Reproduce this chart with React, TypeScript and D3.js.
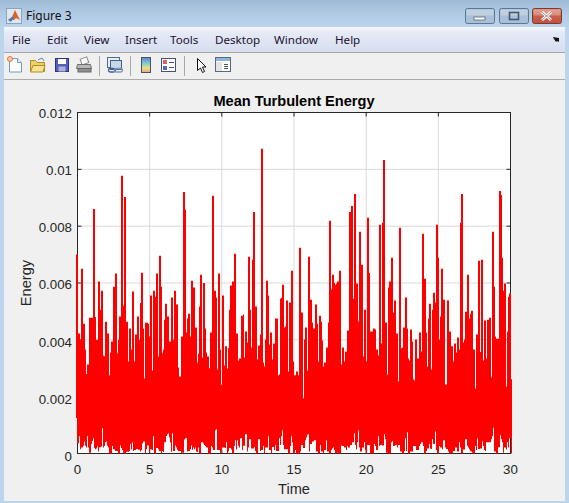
import React from "react";
import * as d3 from "d3";

// Window text
const windowTitle = "Figure 3";
const menuItems = ["File", "Edit", "View", "Insert", "Tools", "Desktop", "Window", "Help"];
const menuX = [12, 47, 84, 125, 170, 215, 274, 335];

// Chart text
const chartTitle = "Mean Turbulent Energy";
const xLabel = "Time";
const yLabel = "Energy";
const xTicks = [0, 5, 10, 15, 20, 25, 30];
const yTicks = [0, 0.002, 0.004, 0.006, 0.008, 0.01, 0.012];
const yTickLabels = ["0", "0.002", "0.004", "0.006", "0.008", "0.01", "0.012"];

// Upper and lower reach of the dense red trace, in units of 1e-5 energy, sample by sample
const upperA = [700,700,422,422,400,650,650,457,457,366,280,313,313,478,478,478,478,860,860,480,400,400,605,605,506,573,573,345,342,464,464,422,422,275,355,394,394,587,587,633,633,352,400,482,482,977,977,520,903,903,464,464,324,440,440,366,570,570,324,419,419,482,482,400,530,636,636,440,264,460,460,460,457,412,556,556,292,573,573,552,633,633,341,696,696,587,352,366,471,527,527,482,482,394,394,549,549,400,573,573,524,524,303,271,271,412,412,920,920,858,426,475,492,492,412,608,608,584,584,443,443,320,352,517,629,629,338,600,600,440,355,341,341,300,426,426,907,907,573,573,549,296,633,633,366,240,556,556,310];
const upperB = [377,377,299,370,506,591,591,605,605,703,703,422,422,327,334,334,485,485,489,338,429,429,391,692,692,506,373,682,850,850,517,517,331,380,380,419,1072,1072,320,306,401,608,608,556,384,426,426,331,387,387,475,475,475,275,278,545,548,594,594,443,447,538,538,289,531,531,643,643,324,275,275,289,289,275,724,724,496,496,194,401,443,443,292,692,692,541,541,461,440,440,524,524,457,324,485,485,464,398,306,320,320,373,373,461,819,819,577,629,629,601,594,598,605,605,643,643,313,373,373,324,359,359,433,433,850,850,871,871,545,913,913,598,598,464,780,780,664,664,341,506,506,324,830,830,635];
const upperC = [429,429,429,440,440,436,366,366,345,805,805,387,812,1033,1033,461,461,278,584,605,605,689,689,496,538,538,422,422,254,794,794,370,373,443,443,549,549,440,334,327,436,436,394,261,257,401,401,334,334,426,426,359,773,773,615,615,426,306,475,527,527,296,506,566,566,531,805,805,689,401,482,650,650,541,541,243,243,538,538,429,429,377,377,324,387,387,355,408,408,366,812,913,913,391,401,499,499,629,629,475,492,502,502,366,366,229,419,419,678,678,357,682,682,327,468,468,334,471,471,478,478,268,780,780,587,412,404,404,404,924,924,910,689,573,598,598,236,429,552,563,563,261];
const lowerA = [125,36,36,61,15,21,21,27,42,27,21,61,21,3,3,33,44,54,19,15,18,25,7,21,23,25,89,21,26,40,42,27,21,0,0,0,26,16,14,9,9,9,0,0,28,19,12,3,0,0,6,6,6,9,33,14,39,9,12,12,16,16,13,13,7,12,35,42,42,0,15,28,28,6,14,14,12,61,0,0,19,19,15,9,9,0,9,5,40,40,62,68,71,56,39,6,71,9,9,28,21,12,9,9,9,3,3,3,49,54,54,7,9,9,15,28,13,21,15,21,7,5,21,0,0,40,40,35,30,26,21,21,0,0,0,26,21,12,12,82,85,12,12,12,0,12,21,21,21];
const lowerB = [19,40,0,7,19,19,14,0,0,26,47,14,47,27,21,54,54,12,27,27,68,68,7,21,50,50,18,18,18,23,9,0,0,50,50,9,12,12,26,0,21,21,21,61,12,12,0,23,23,12,30,9,9,9,54,30,61,82,30,15,15,15,15,0,0,26,61,39,0,0,12,0,0,0,0,7,30,30,19,19,47,56,66,68,7,33,33,42,42,47,47,7,7,0,0,30,7,7,0,12,12,47,7,7,0,0,12,18,21,12,0,0,3,0,0,0,28,26,26,21,21,12,26,21,21,30,30,40,40,71,30,15,40,82,21,7,7,21,21,40,12,0,30,30,30];
const lowerC = [0,0,0,0,33,26,12,12,61,26,30,30,28,28,68,50,3,3,0,0,0,40,44,26,26,30,30,21,30,30,7,7,0,0,9,54,9,75,0,0,7,7,7,26,26,26,12,12,12,26,33,40,40,26,0,0,9,18,18,33,18,16,50,33,33,77,12,0,0,26,21,21,15,47,47,21,16,16,7,0,0,0,3,9,9,21,21,7,7,40,21,0,0,14,14,50,50,27,21,15,9,7,3,0,0,26,12,54,16,16,18,18,42,26,12,9,40,40,40,40,40,50,61,91,7,7,0,0,22,22,64,50,40,3,21,21,14,40,21,54,54,0];

const upper = [...upperA, ...upperB, ...upperC];
const lower = [...lowerA, ...lowerB, ...lowerC];

const WIDTH = 569;
const HEIGHT = 503;
const plot = { left: 77.5, right: 510.5, top: 112.5, bottom: 453.5 };
const traceUnit = 1e-5;
const dt = 30 / (plot.right - plot.left);
const traceStartPx = 76;

const x = d3.scaleLinear().domain([0, 30]).range([plot.left, plot.right]);
const y = d3.scaleLinear().domain([0, 0.012]).range([plot.bottom, plot.top]);
// tick labels sit slightly lower than their ticks, a little more so near zero
const yLabelDrop = d3.scaleLinear().domain([0, 0.012]).range([7.5, 5.4]);
const sans = "'Liberation Sans', Arial, sans-serif";
const uiFont = "'Noto Sans', 'Open Sans', sans-serif";
const axisColor = "#262626";
const gridColor = "#d9d9d9";

type Sample = { t: number; hi: number; lo: number };
const samples: Sample[] = upper.map((u, i) => ({
  t: (traceStartPx + i - plot.left) * dt,
  hi: u * traceUnit,
  lo: (lower[i] ?? 0) * traceUnit,
}));
// closing sample so that the last step has its full width
samples.push({ ...samples[samples.length - 1], t: samples[samples.length - 1].t + dt });

const traceArea = d3
  .area<Sample>()
  .x((d) => x(d.t))
  .y0((d) => y(d.lo))
  .y1((d) => y(d.hi))
  .curve(d3.curveStepAfter);

function WinButton({ x0, w, fill, stroke, children }: { x0: number; w: number; fill: string; stroke: string; children?: React.ReactNode }) {
  return (
    <g>
      <rect x={x0 + 0.5} y={8.5} width={w} height={15} rx={2} fill={fill} stroke={stroke} />
      <rect x={x0 + 1.5} y={9.5} width={w - 2} height={6} rx={1} fill="#ffffff" opacity={0.25} />
      {children}
    </g>
  );
}

function Toolbar() {
  return (
    <g>
      {/* new */}
      <path d="M9.5 58.5h8l4 4v9.5h-12z" fill="#ffffff" stroke="#6f9ac6" />
      <path d="M17.5 58.5v4h4" fill="#e8f0fa" stroke="#6f9ac6" />
      <circle cx={10} cy={59} r={2.5} fill="#f8c9a0" stroke="#e07a3c" />
      {/* open */}
      <path d="M30.5 60.5h5l2 2h7v9h-14z" fill="#f2cf62" stroke="#b08c2a" />
      <path d="M30.5 72l2.5-6.5h12l-2 6.5z" fill="#f9e38e" stroke="#b08c2a" />
      <path d="M38 60l4-2 2 3" fill="none" stroke="#5c85b8" />
      {/* save */}
      <rect x={55.5} y={58.5} width={13} height={13} fill="#5560b4" stroke="#2c3486" />
      <rect x={58} y={59} width={8} height={5} fill="#ffffff" />
      <rect x={58.5} y={66.5} width={7} height={5} fill="#aab2dc" />
      {/* print */}
      <rect x={81} y={58} width={7} height={6} fill="#ffffff" stroke="#8a8a8a" transform="rotate(-20 84 61)" />
      <path d="M77.5 64.5h13l1 4h-15z" fill="#b8b8b8" stroke="#707070" />
      <rect x={78} y={68.5} width={13} height={3.5} fill="#8e8e8e" stroke="#666666" />
      <line x1={99.5} x2={99.5} y1={56} y2={76} stroke="#a8a8a8" />
      {/* link */}
      <rect x={107.5} y={57.5} width={12} height={10} fill="#e9eef6" stroke="#4a6d96" />
      <rect x={110.5} y={60.5} width={11} height={9} fill="#c9d7ea" stroke="#3e618c" />
      <rect x={108.5} y={68.5} width={7} height={3.5} rx={1.7} fill="none" stroke="#3e618c" strokeWidth={1.3} />
      <rect x={114.5} y={68.5} width={8} height={3.5} rx={1.7} fill="none" stroke="#7c97b8" strokeWidth={1.3} />
      <line x1={130.5} x2={130.5} y1={56} y2={76} stroke="#a8a8a8" />
      {/* colorbar */}
      <defs>
        <linearGradient id="cbar" x1="0" x2="0" y1="0" y2="1">
          <stop offset="0" stopColor="#5f7fd8" />
          <stop offset="0.4" stopColor="#7fd0c8" />
          <stop offset="0.7" stopColor="#e8e090" />
          <stop offset="1" stopColor="#f0a070" />
        </linearGradient>
        <linearGradient id="titlebar" x1="0" x2="0" y1="0" y2="1">
          <stop offset="0" stopColor="#9fbad6" />
          <stop offset="0.5" stopColor="#b2cbe4" />
          <stop offset="1" stopColor="#bcd4ec" />
        </linearGradient>
        <linearGradient id="menubar" x1="0" x2="0" y1="0" y2="1">
          <stop offset="0" stopColor="#f4f7fc" />
          <stop offset="0.25" stopColor="#e4e9f5" />
          <stop offset="1" stopColor="#d6deef" />
        </linearGradient>
        <linearGradient id="closeBtn" x1="0" x2="0" y1="0" y2="1">
          <stop offset="0" stopColor="#d98a78" />
          <stop offset="0.5" stopColor="#c8604c" />
          <stop offset="1" stopColor="#c05040" />
        </linearGradient>
      </defs>
      <rect x={141.5} y={57.5} width={9} height={15} fill="url(#cbar)" stroke="#4a5068" />
      {/* legend */}
      <rect x={161.5} y={58.5} width={14} height={13} fill="#ffffff" stroke="#46507a" />
      <rect x={163} y={60} width={4} height={4} fill="#e06060" />
      <rect x={163} y={66} width={4} height={4} fill="#5068c8" />
      <line x1={169} x2={174} y1={62.5} y2={62.5} stroke="#46507a" />
      <line x1={169} x2={174} y1={67.5} y2={67.5} stroke="#46507a" />
      <line x1={184.5} x2={184.5} y1={56} y2={76} stroke="#a8a8a8" />
      {/* cursor */}
      <path d="M197.5 58.5v12l3-2.5 2 4.5 2-1-2-4.5h3.5z" fill="#ffffff" stroke="#111111" />
      {/* panel */}
      <rect x={215.5} y={57.5} width={15} height={14} fill="#ffffff" stroke="#5a6a7a" />
      <rect x={216} y={58} width={14} height={3} fill="#8fb4dc" />
      <rect x={216} y={62} width={6} height={9} fill="#e4e4e4" />
      <line x1={224} x2={228} y1={64.5} y2={64.5} stroke="#555555" />
      <line x1={224} x2={228} y1={66.5} y2={66.5} stroke="#555555" />
      <line x1={224} x2={228} y1={68.5} y2={68.5} stroke="#555555" />
    </g>
  );
}

export default function App() {
  return (
    <svg
      width={WIDTH}
      height={HEIGHT}
      viewBox={`0 0 ${WIDTH} ${HEIGHT}`}
      style={{ position: "absolute", left: 0, top: 0, display: "block" }}
    >
      {/* window frame */}
      <rect width={WIDTH} height={HEIGHT} fill="#bcd4ec" />
      <rect x={0} y={0} width={WIDTH} height={28} fill="url(#titlebar)" />
      <rect x={4} y={27} width={561} height={474} fill="#f0f0f0" />
      <rect x={4} y={27} width={561} height={25} fill="url(#menubar)" />
      <line x1={4} x2={565} y1={52.5} y2={52.5} stroke="#a5a5a5" />
      <line x1={4} x2={565} y1={79.5} y2={79.5} stroke="#ababab" />
      <rect x={4} y={501} width={561} height={2} fill="#bcd4ec" />

      {/* title bar */}
      <rect x={6.5} y={8.5} width={15} height={15} fill="#dfe8f2" stroke="#8ea4bc" />
      <path d="M8 20l4-3 3-7 2 4 3 6-4-2-2 2z" fill="#d9622b" />
      <path d="M8 20l4-3 2 0-3 5z" fill="#3f7fc0" />
      <text x={26} y={20} fontFamily={uiFont} fontSize={12} fill="#111111">{windowTitle}</text>
      <WinButton x0={465} w={29} fill="#a9c0d8" stroke="#5b7790">
        <rect x={474} y={17} width={11} height={3} fill="#ffffff" stroke="#44586c" strokeWidth={0.7} />
      </WinButton>
      <WinButton x0={499} w={29} fill="#a9c0d8" stroke="#5b7790">
        <rect x={509.5} y={12.5} width={9} height={7} fill="none" stroke="#44586c" strokeWidth={1.6} />
      </WinButton>
      <WinButton x0={532} w={29} fill="url(#closeBtn)" stroke="#7c3a30">
        <path d="M542 12l9 8m0-8l-9 8" stroke="#ffffff" strokeWidth={3} />
        <path d="M542 12l9 8m0-8l-9 8" stroke="#5a4a4a" strokeWidth={0.6} />
      </WinButton>

      {/* menu */}
      {menuItems.map((m, i) => (
        <text key={m} x={menuX[i]} y={44} fontFamily={uiFont} fontSize={11.6} fill="#1a1030">{m}</text>
      ))}
      <path d="M553 37l6 1v4l-2-1-1 1-2-3z" fill="#111111" />
      <Toolbar />

      {/* axes box */}
      <rect x={plot.left} y={plot.top} width={plot.right - plot.left} height={plot.bottom - plot.top} fill="#ffffff" />
      {xTicks.slice(1, -1).map((t) => (
        <line key={t} x1={x(t)} x2={x(t)} y1={plot.top} y2={plot.bottom} stroke={gridColor} strokeWidth={1} />
      ))}
      {yTicks.slice(1, -1).map((t) => (
        <line key={t} x1={plot.left} x2={plot.right} y1={y(t)} y2={y(t)} stroke={gridColor} strokeWidth={1} />
      ))}
      <rect x={plot.left} y={plot.top} width={plot.right - plot.left} height={plot.bottom - plot.top} fill="none" stroke={axisColor} strokeWidth={1} />
      {xTicks.map((t) => (
        <g key={t}>
          <line x1={x(t)} x2={x(t)} y1={plot.bottom} y2={plot.bottom - 4} stroke={axisColor} />
          <line x1={x(t)} x2={x(t)} y1={plot.top} y2={plot.top + 4} stroke={axisColor} />
        </g>
      ))}
      {yTicks.map((t) => (
        <g key={t}>
          <line x1={plot.left} x2={plot.left + 4} y1={y(t)} y2={y(t)} stroke={axisColor} />
          <line x1={plot.right} x2={plot.right - 4} y1={y(t)} y2={y(t)} stroke={axisColor} />
        </g>
      ))}

      {/* data */}
      <path d={traceArea(samples) ?? ""} fill="#ff0000" />

      {/* labels */}
      {xTicks.map((t) => (
        <text key={t} x={x(t)} y={474} textAnchor="middle" fontFamily={sans} fontSize={13.3} fill={axisColor}>{t}</text>
      ))}
      {yTicks.map((t, i) => (
        <text key={t} x={72} y={y(t) + yLabelDrop(t)} textAnchor="end" fontFamily={sans} fontSize={13.3} fill={axisColor}>{yTickLabels[i]}</text>
      ))}
      <text x={294} y={106} textAnchor="middle" fontFamily={sans} fontSize={14.6} fontWeight="bold" fill="#000000">{chartTitle}</text>
      <text x={294} y={494} textAnchor="middle" fontFamily={sans} fontSize={14.6} fill={axisColor}>{xLabel}</text>
      <text transform={`translate(31,283) rotate(-90)`} textAnchor="middle" fontFamily={sans} fontSize={14.6} fill={axisColor}>{yLabel}</text>
    </svg>
  );
}
